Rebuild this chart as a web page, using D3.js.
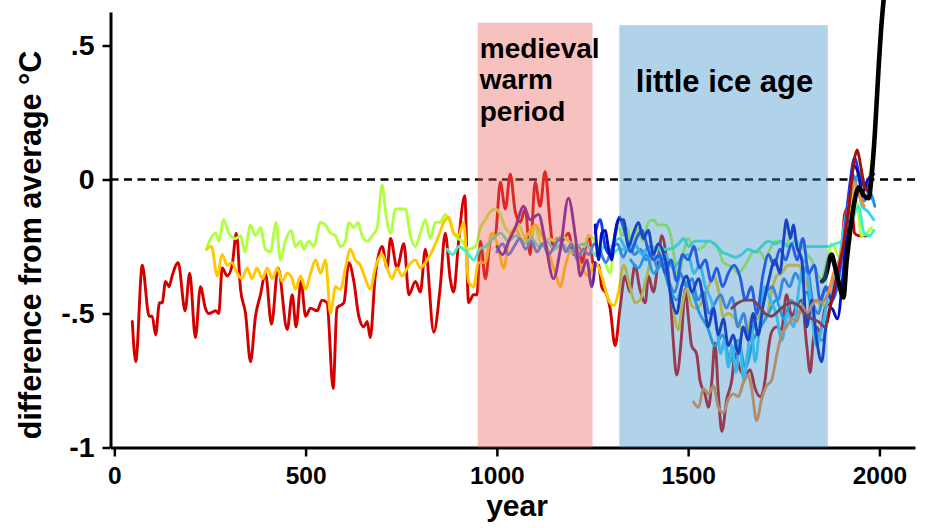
<!DOCTYPE html>
<html>
<head>
<meta charset="utf-8">
<script src="https://cdn.jsdelivr.net/npm/d3@7"></script>
<style>
  body { margin: 0; background: #fff; }
  text { font-family: "Liberation Sans", Arial, Helvetica, sans-serif; font-weight: 700; fill: #000; }
</style>
</head>
<body>
<svg id="chart" width="936" height="528"></svg>
<script>
// ---- data ----
const xTicks = [0, 500, 1000, 1500, 2000];
const yTicks = [-1, -0.5, 0, 0.5];
const yTickLabels = ['-1', '-.5', '0', '.5'];

const periodNames = [['medieval', 'warm', 'period'], ['little ice age']];
const periodStart = [950, 1320];
const periodEnd = [1250, 1865];
const periodTop = [0.585, 0.576];

const redSeries = [[47,-0.53],[56,-0.68],[73,-0.32],[91,-0.51],[99,-0.51],[108,-0.58],[118,-0.46],[125,-0.46],[134,-0.38],[143,-0.40],[151,-0.36],[167,-0.31],[185,-0.49],[197,-0.35],[212,-0.59],[225,-0.40],[238,-0.48],[247,-0.50],[265,-0.49],[273,-0.50],[282,-0.33],[295,-0.36],[308,-0.32],[319,-0.20],[330,-0.41],[343,-0.50],[356,-0.68],[369,-0.51],[382,-0.43],[395,-0.35],[411,-0.54],[428,-0.33],[452,-0.56],[465,-0.43],[475,-0.55],[488,-0.38],[500,-0.51],[513,-0.48],[530,-0.49],[543,-0.45],[556,-0.46],[572,-0.78],[582,-0.48],[600,-0.46],[613,-0.31],[626,-0.38],[639,-0.51],[652,-0.55],[661,-0.53],[669,-0.59],[682,-0.36],[700,-0.25],[713,-0.33],[722,-0.22],[739,-0.33],[757,-0.24],[770,-0.43],[787,-0.38],[800,-0.42],[813,-0.26],[835,-0.57],[852,-0.40],[865,-0.20],[878,-0.37],[887,-0.42],[900,-0.23],[916,-0.06],[926,-0.46],[939,-0.43],[948,-0.43],[957,-0.23],[970,-0.37],[983,-0.23],[996,-0.21],[1009,-0.01],[1022,-0.11],[1035,0.02],[1048,-0.12],[1061,-0.16],[1074,-0.11],[1087,-0.28],[1100,-0.01],[1113,-0.10],[1126,0.03],[1139,-0.16],[1148,-0.26],[1157,-0.22],[1170,-0.23],[1187,-0.20],[1201,-0.28],[1214,-0.25],[1222,-0.31],[1240,-0.21],[1253,-0.32],[1266,-0.32],[1274,-0.40],[1287,-0.43],[1296,-0.48],[1309,-0.62],[1322,-0.48],[1335,-0.36],[1348,-0.42],[1361,-0.32],[1374,-0.41],[1388,-0.46],[1396,-0.36],[1409,-0.42],[1422,-0.30],[1431,-0.21],[1444,-0.30],[1453,-0.42],[1461,-0.60],[1470,-0.73],[1483,-0.58],[1492,-0.41],[1501,-0.52],[1509,-0.62],[1522,-0.65],[1531,-0.75],[1544,-0.80],[1553,-0.85],[1562,-0.75],[1570,-0.61],[1579,-0.80],[1588,-0.94],[1601,-0.82],[1614,-0.75],[1623,-0.65],[1636,-0.71],[1649,-0.73],[1662,-0.71],[1675,-0.78],[1688,-0.81],[1701,-0.75],[1710,-0.63],[1718,-0.57],[1731,-0.55],[1744,-0.56],[1757,-0.43],[1771,-0.51],[1784,-0.47],[1797,-0.45],[1810,-0.62],[1819,-0.72],[1827,-0.60],[1836,-0.55],[1845,-0.57],[1858,-0.48],[1871,-0.46],[1884,-0.43],[1901,-0.28],[1909,-0.13],[1919,-0.10],[1927,-0.09],[1935,-0.20],[1946,-0.21],[1959,-0.21],[1972,-0.21]];

const greenSeries = [[241,-0.26],[252,-0.22],[265,-0.20],[273,-0.23],[286,-0.15],[299,-0.20],[317,-0.22],[330,-0.21],[341,-0.27],[356,-0.17],[369,-0.21],[382,-0.18],[395,-0.26],[408,-0.27],[423,-0.16],[434,-0.30],[447,-0.23],[463,-0.19],[473,-0.25],[487,-0.23],[495,-0.26],[508,-0.23],[521,-0.25],[539,-0.16],[552,-0.17],[565,-0.20],[578,-0.21],[591,-0.25],[604,-0.23],[613,-0.16],[626,-0.18],[637,-0.16],[648,-0.21],[661,-0.23],[674,-0.21],[687,-0.18],[700,-0.02],[710,-0.13],[722,-0.20],[735,-0.11],[748,-0.11],[761,-0.11],[774,-0.21],[787,-0.25],[800,-0.20],[813,-0.15],[826,-0.22],[839,-0.16],[852,-0.16],[865,-0.13],[878,-0.16],[891,-0.21],[909,-0.23],[926,-0.26],[944,-0.25],[957,-0.18],[970,-0.15],[983,-0.12],[996,-0.11],[1009,-0.13],[1022,-0.18],[1039,-0.20],[1057,-0.17],[1070,-0.21],[1083,-0.23],[1100,-0.18],[1118,-0.25],[1135,-0.22],[1152,-0.23],[1170,-0.21],[1187,-0.23],[1205,-0.25],[1222,-0.27],[1240,-0.21],[1257,-0.23],[1283,-0.31],[1296,-0.35],[1305,-0.26],[1318,-0.18],[1327,-0.21],[1340,-0.18],[1353,-0.27],[1370,-0.18],[1381,-0.23],[1396,-0.16],[1409,-0.15],[1422,-0.17],[1440,-0.17],[1453,-0.20],[1466,-0.31],[1475,-0.37],[1488,-0.27],[1501,-0.22],[1514,-0.26],[1527,-0.26],[1540,-0.25],[1553,-0.23],[1566,-0.24],[1579,-0.26],[1592,-0.31],[1605,-0.32],[1618,-0.33],[1631,-0.35],[1644,-0.33],[1657,-0.30],[1670,-0.27],[1688,-0.27],[1701,-0.30],[1714,-0.26],[1727,-0.23],[1740,-0.23],[1753,-0.25],[1771,-0.21],[1784,-0.23],[1797,-0.25],[1810,-0.28],[1823,-0.30],[1836,-0.35],[1849,-0.37],[1862,-0.31],[1875,-0.24],[1896,-0.29],[1914,-0.23],[1927,-0.14],[1940,-0.08],[1953,-0.21],[1966,-0.20],[1979,-0.18]];

const goldSeries = [[241,-0.26],[254,-0.25],[269,-0.36],[282,-0.28],[295,-0.32],[308,-0.31],[321,-0.35],[334,-0.37],[347,-0.33],[360,-0.37],[373,-0.33],[387,-0.37],[400,-0.33],[413,-0.37],[426,-0.33],[439,-0.38],[452,-0.35],[465,-0.37],[473,-0.41],[487,-0.36],[500,-0.41],[513,-0.35],[526,-0.30],[539,-0.35],[552,-0.30],[565,-0.50],[578,-0.40],[591,-0.41],[604,-0.33],[617,-0.26],[630,-0.30],[643,-0.32],[656,-0.37],[669,-0.41],[682,-0.33],[700,-0.28],[713,-0.33],[726,-0.37],[739,-0.33],[752,-0.36],[770,-0.32],[787,-0.30],[800,-0.33],[813,-0.31],[830,-0.27],[848,-0.21],[861,-0.16],[874,-0.14],[887,-0.20],[900,-0.21],[913,-0.16],[926,-0.38],[939,-0.40],[952,-0.31],[969,-0.31],[987,-0.20],[1003,-0.25],[1018,-0.33],[1031,-0.23],[1048,-0.18],[1066,-0.23],[1083,-0.20],[1100,-0.17],[1118,-0.21],[1135,-0.27],[1153,-0.35],[1166,-0.40],[1179,-0.32],[1192,-0.27],[1205,-0.28],[1222,-0.33],[1240,-0.36],[1257,-0.31],[1274,-0.36],[1292,-0.45],[1305,-0.47],[1318,-0.42],[1331,-0.32],[1348,-0.40],[1361,-0.46],[1374,-0.45],[1392,-0.36],[1409,-0.27],[1422,-0.25],[1435,-0.30],[1449,-0.37],[1457,-0.43],[1466,-0.53],[1475,-0.56],[1483,-0.48],[1496,-0.41],[1509,-0.47],[1522,-0.48],[1535,-0.46],[1553,-0.40],[1566,-0.36],[1579,-0.41],[1592,-0.51],[1605,-0.50],[1623,-0.52],[1640,-0.56],[1653,-0.57],[1666,-0.51],[1679,-0.52],[1692,-0.50],[1705,-0.51],[1718,-0.42],[1731,-0.36],[1744,-0.35],[1762,-0.32],[1775,-0.32],[1788,-0.32],[1801,-0.35],[1814,-0.41],[1827,-0.45],[1840,-0.46],[1853,-0.47],[1864,-0.46],[1880,-0.37],[1901,-0.27],[1922,-0.14],[1935,-0.03],[1948,0.03],[1961,-0.05],[1974,0.01],[1987,0.14]];

const tealSeries = [[870,-0.26],[885,-0.28],[900,-0.25],[920,-0.27],[940,-0.30],[955,-0.26],[970,-0.25],[990,-0.22],[1010,-0.20],[1030,-0.23],[1050,-0.21],[1070,-0.24],[1090,-0.22],[1110,-0.25],[1130,-0.23],[1150,-0.26],[1170,-0.24],[1190,-0.27],[1210,-0.25],[1230,-0.24],[1250,-0.27],[1265,-0.29],[1280,-0.25],[1300,-0.28],[1318,-0.26],[1340,-0.26],[1360,-0.25],[1380,-0.27],[1400,-0.25],[1422,-0.26],[1449,-0.26],[1475,-0.24],[1488,-0.22],[1501,-0.25],[1518,-0.23],[1535,-0.23],[1553,-0.23],[1570,-0.24],[1588,-0.27],[1605,-0.28],[1623,-0.29],[1640,-0.28],[1657,-0.26],[1675,-0.27],[1692,-0.25],[1710,-0.23],[1727,-0.24],[1745,-0.23],[1762,-0.25],[1780,-0.23],[1797,-0.25],[1814,-0.25],[1832,-0.25],[1849,-0.25],[1866,-0.25],[1884,-0.24],[1901,-0.23],[1915,-0.20],[1930,-0.15],[1945,-0.10],[1960,-0.20],[1975,-0.21],[1985,-0.19]];

const purpleSeries = [[1000,-0.25],[1015,-0.28],[1031,-0.23],[1048,-0.18],[1070,-0.10],[1087,-0.15],[1109,-0.13],[1126,-0.23],[1148,-0.37],[1166,-0.26],[1187,-0.07],[1205,-0.21],[1218,-0.36],[1235,-0.30],[1248,-0.40],[1257,-0.31]];

const navySeries = [[1257,-0.17],[1266,-0.30],[1274,-0.20],[1283,-0.19],[1292,-0.26],[1300,-0.30],[1309,-0.20],[1318,-0.15],[1331,-0.15],[1344,-0.25],[1357,-0.20],[1370,-0.16],[1383,-0.22],[1396,-0.19],[1409,-0.28],[1422,-0.24],[1440,-0.30],[1457,-0.45],[1470,-0.50],[1483,-0.40],[1496,-0.36],[1510,-0.42],[1527,-0.37],[1540,-0.45],[1553,-0.55],[1566,-0.48],[1579,-0.58],[1592,-0.52],[1605,-0.62],[1618,-0.58],[1631,-0.65],[1644,-0.55],[1657,-0.60],[1670,-0.50],[1683,-0.58],[1696,-0.47],[1710,-0.38],[1727,-0.30],[1740,-0.35],[1750,-0.22],[1757,-0.15],[1767,-0.22],[1775,-0.17],[1784,-0.25],[1797,-0.30],[1810,-0.55],[1823,-0.45],[1836,-0.60],[1849,-0.68],[1860,-0.55],[1875,-0.48],[1890,-0.52],[1905,-0.35],[1920,-0.10],[1935,0.05],[1945,0.02],[1955,-0.05],[1970,0.00],[1985,0.02]];

const blueSeries = [[1257,-0.20],[1270,-0.15],[1283,-0.25],[1296,-0.28],[1310,-0.20],[1320,-0.14],[1335,-0.20],[1350,-0.27],[1365,-0.22],[1380,-0.19],[1395,-0.26],[1410,-0.30],[1425,-0.28],[1440,-0.35],[1455,-0.30],[1470,-0.38],[1485,-0.28],[1500,-0.30],[1515,-0.25],[1530,-0.33],[1545,-0.30],[1560,-0.38],[1575,-0.33],[1590,-0.40],[1605,-0.35],[1620,-0.32],[1635,-0.36],[1650,-0.45],[1665,-0.40],[1680,-0.50],[1695,-0.36],[1710,-0.28],[1725,-0.32],[1740,-0.26],[1755,-0.30],[1770,-0.24],[1785,-0.30],[1800,-0.22],[1815,-0.35],[1830,-0.32],[1845,-0.45],[1860,-0.40],[1875,-0.45],[1890,-0.38],[1905,-0.25],[1920,-0.05],[1935,0.08],[1950,0.00],[1965,-0.03],[1980,0.00]];

const cornflowerSeries = [[1000,-0.27],[1015,-0.24],[1030,-0.28],[1045,-0.25],[1060,-0.22],[1075,-0.26],[1090,-0.23],[1105,-0.27],[1120,-0.24],[1135,-0.28],[1150,-0.25],[1165,-0.22],[1180,-0.27],[1195,-0.24],[1210,-0.30],[1225,-0.26],[1240,-0.28],[1255,-0.24],[1270,-0.27],[1285,-0.31],[1300,-0.26],[1315,-0.24],[1330,-0.29],[1345,-0.25],[1360,-0.28],[1375,-0.26],[1390,-0.30],[1405,-0.27],[1420,-0.33],[1435,-0.29],[1450,-0.38],[1465,-0.42],[1480,-0.35],[1495,-0.40],[1510,-0.37],[1525,-0.45],[1540,-0.42],[1555,-0.50],[1570,-0.46],[1585,-0.43],[1600,-0.48],[1615,-0.44],[1630,-0.55],[1645,-0.50],[1660,-0.60],[1675,-0.52],[1690,-0.45],[1705,-0.42],[1720,-0.40],[1735,-0.45],[1750,-0.37],[1765,-0.40],[1780,-0.35],[1795,-0.38],[1810,-0.32],[1825,-0.45],[1840,-0.50],[1855,-0.42],[1870,-0.40],[1885,-0.35],[1900,-0.28],[1915,-0.12],[1930,0.02],[1945,-0.05],[1960,-0.08],[1975,-0.05],[1988,-0.10]];

const skySeries = [[1300,-0.25],[1320,-0.22],[1340,-0.26],[1360,-0.24],[1380,-0.28],[1400,-0.25],[1420,-0.30],[1440,-0.28],[1460,-0.33],[1480,-0.30],[1500,-0.28],[1515,-0.35],[1530,-0.32],[1545,-0.40],[1560,-0.45],[1575,-0.55],[1585,-0.65],[1595,-0.60],[1605,-0.70],[1615,-0.62],[1625,-0.72],[1635,-0.60],[1645,-0.75],[1655,-0.65],[1665,-0.55],[1675,-0.68],[1690,-0.50],[1700,-0.40],[1715,-0.45],[1730,-0.50],[1745,-0.60],[1760,-0.50],[1775,-0.55],[1790,-0.40],[1805,-0.30],[1820,-0.45],[1835,-0.62],[1850,-0.55],[1865,-0.45],[1880,-0.40],[1895,-0.30],[1910,-0.15],[1925,-0.05],[1940,-0.02],[1955,-0.10],[1970,-0.12],[1985,-0.15]];

const deepSkySeries = [[1350,-0.30],[1370,-0.33],[1390,-0.28],[1410,-0.35],[1430,-0.32],[1450,-0.40],[1470,-0.45],[1490,-0.38],[1510,-0.42],[1530,-0.50],[1550,-0.55],[1570,-0.62],[1590,-0.58],[1610,-0.68],[1630,-0.60],[1650,-0.70],[1670,-0.60],[1690,-0.55],[1710,-0.50],[1730,-0.45],[1750,-0.52],[1770,-0.45],[1790,-0.50],[1810,-0.42],[1830,-0.55],[1850,-0.60],[1870,-0.48],[1890,-0.40],[1910,-0.20],[1930,-0.02],[1950,0.02],[1970,-0.05],[1985,-0.08]];

const orangeSeries = [[1514,-0.83],[1527,-0.85],[1540,-0.78],[1553,-0.80],[1566,-0.77],[1579,-0.85],[1592,-0.87],[1605,-0.82],[1618,-0.80],[1631,-0.81],[1644,-0.76],[1657,-0.73],[1666,-0.78],[1679,-0.90],[1692,-0.82],[1705,-0.77],[1718,-0.75],[1731,-0.66],[1744,-0.58],[1757,-0.55],[1771,-0.52],[1784,-0.53],[1797,-0.47],[1810,-0.50],[1823,-0.47],[1836,-0.45],[1849,-0.46],[1867,-0.42],[1880,-0.35],[1895,-0.30],[1910,-0.20],[1925,-0.05],[1935,-0.01],[1945,-0.05],[1960,-0.10]];

const maroonSeries = [[1614,-0.48],[1631,-0.46],[1649,-0.45],[1666,-0.45],[1684,-0.47],[1701,-0.50],[1718,-0.51],[1736,-0.49],[1753,-0.47],[1771,-0.46],[1788,-0.47],[1805,-0.50],[1823,-0.52],[1840,-0.53],[1858,-0.55],[1875,-0.45],[1890,-0.35],[1905,-0.25],[1920,-0.10],[1935,0.08],[1942,0.11],[1950,0.06],[1960,-0.02],[1968,-0.04]];

const instrumentalSeries = [[1850,-0.38],[1857,-0.37],[1875,-0.28],[1883,-0.32],[1893,-0.38],[1906,-0.44],[1914,-0.31],[1922,-0.21],[1935,-0.08],[1946,-0.03],[1959,-0.06],[1972,-0.07],[1980,0.02],[1988,0.17],[1998,0.42],[2006,0.59],[2011,0.67]];

// table of series, drawing order bottom to top
const series = [
  { data: redSeries, color: '#d40000', width: 2.9 },
  { data: greenSeries, color: '#b0ff40', width: 2.9 },
  { data: goldSeries, color: '#ffc800', width: 2.9 },
  { data: tealSeries, color: '#40f0c8', width: 2.9 },
  { data: cornflowerSeries, color: '#3a80f0', width: 2.9 },
  { data: purpleSeries, color: '#5a1ab0', width: 2.9 },
  { data: deepSkySeries, color: '#18a0f0', width: 2.9 },
  { data: skySeries, color: '#38d0ff', width: 2.9 },
  { data: blueSeries, color: '#1a3cf0', width: 2.9 },
  { data: navySeries, color: '#0012c0', width: 2.9 },
  { data: orangeSeries, color: '#ff8a30', width: 2.9 },
  { data: maroonSeries, color: '#a01010', width: 2.9 },
  { data: instrumentalSeries, color: '#000000', width: 4.6 },
];

// ---- scales ----
const svg = d3.select('#chart');

const x = d3.scaleLinear().domain([-10, 2093]).range([110.5, 915]);
const y = d3.scaleLinear().domain([-1, 0.625]).range([447.5, 12]);

const line = d3.line()
  .x((d) => x(d[0]))
  .y((d) => y(d[1]))
  .curve(d3.curveMonotoneX);

// zero reference
svg.append('line')
  .attr('x1', x.range()[0]).attr('x2', x.range()[1])
  .attr('y1', y(0)).attr('y2', y(0))
  .attr('stroke', '#000')
  .attr('stroke-width', 2.6)
  .attr('stroke-dasharray', '8 5.5');

// reconstructions
svg.append('g')
  .selectAll('path')
  .data(series)
  .join('path')
  .attr('d', (d) => line(d.data))
  .attr('fill', 'none')
  .attr('stroke', (d) => d.color)
  .attr('stroke-width', (d) => d.width)
  .attr('stroke-linejoin', 'round')
  .attr('stroke-linecap', 'round');

// axes
const xAxis = svg.append('g')
  .attr('transform', `translate(0,${y.range()[0]})`)
  .call(d3.axisBottom(x).tickValues(xTicks).tickFormat(d3.format('d')).tickSize(9).tickSizeOuter(0).tickPadding(10));

const yAxis = svg.append('g')
  .attr('transform', `translate(${x.range()[0]},0)`)
  .call(d3.axisLeft(y).tickValues(yTicks).tickFormat((d, i) => yTickLabels[i]).tickSize(8).tickSizeOuter(0).tickPadding(8));

[xAxis, yAxis].forEach((g) => {
  g.attr('font-family', null).attr('font-size', null);
  g.select('.domain').attr('stroke', '#000').attr('stroke-width', 3);
  g.selectAll('.tick line').attr('stroke', '#000').attr('stroke-width', 2.5);
  g.selectAll('.tick text').attr('fill', '#000');
});
xAxis.selectAll('.tick text').attr('font-size', 24.5);
yAxis.selectAll('.tick text').attr('font-size', 28.5);

// shaded periods, laid over the lines
const periodFill = ['rgb(235,100,95)', 'rgb(60,145,202)'];
const periodOpacity = [0.4, 0.4];
svg.append('g')
  .selectAll('rect')
  .data(periodStart)
  .join('rect')
  .attr('x', (d) => x(d))
  .attr('width', (d, i) => x(periodEnd[i]) - x(d))
  .attr('y', (d, i) => y(periodTop[i]))
  .attr('height', (d, i) => y(-1) - y(periodTop[i]))
  .attr('fill', (d, i) => periodFill[i])
  .attr('fill-opacity', (d, i) => periodOpacity[i]);

// period labels
const medieval = svg.append('text')
  .attr('x', x(periodStart[0]) + 2)
  .attr('y', 57.5)
  .attr('font-size', 28);
periodNames[0].forEach((t, i) => {
  medieval.append('tspan').attr('x', x(periodStart[0]) + 2).attr('dy', i === 0 ? 0 : 31.8).text(t);
});

svg.append('text')
  .attr('x', (x(periodStart[1]) + x(periodEnd[1])) / 2 + 1)
  .attr('y', 91.5)
  .attr('text-anchor', 'middle')
  .attr('font-size', 31)
  .text(periodNames[1][0]);

// axis titles
svg.append('text')
  .attr('transform', 'translate(41,245) rotate(-90)')
  .attr('text-anchor', 'middle')
  .attr('font-size', 30.5)
  .text('difference from average °C');

svg.append('text')
  .attr('x', 517)
  .attr('y', 516)
  .attr('text-anchor', 'middle')
  .attr('font-size', 30)
  .text('year');
</script>
</body>
</html>
